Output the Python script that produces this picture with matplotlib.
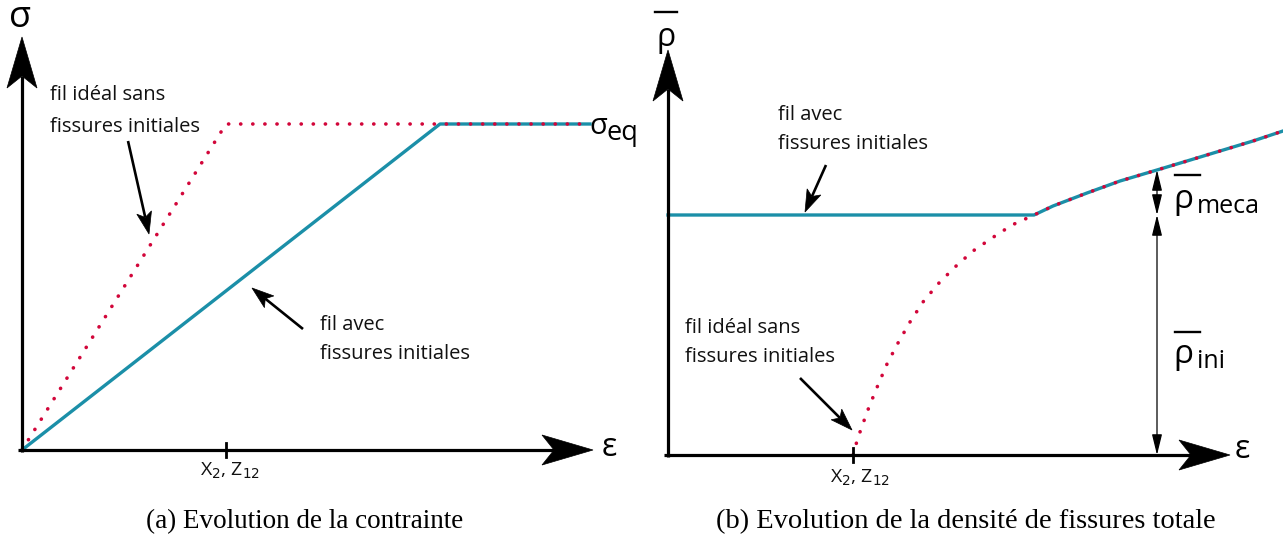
import numpy as np
import matplotlib
matplotlib.use("Agg")
import matplotlib.pyplot as plt
from matplotlib.patches import Polygon, FancyArrowPatch

# ---- data (schematic units) ----
# (a) stress vs strain
strain_ideal = [0, 204, 418, 568]
stress_ideal = [0, 326, 326, 326]
strain_real = [0, 418, 568]
stress_real = [0, 326, 326]
x2_a = 204

# (b) total crack density vs strain
eps_real_b = [0, 366, 385, 419, 452, 489, 519, 552, 585, 615]
rho_real_b = [240, 240, 249, 262, 274, 285, 294, 304, 314, 324]
eps_ideal_b = [185, 189, 193, 201, 210, 219, 230, 242, 255, 270, 287, 305,
               324, 344, 366, 385, 419, 452, 489, 519, 552, 585, 615]
rho_ideal_b = [0, 14, 26, 48, 70, 91, 112, 133, 153, 171, 188, 204,
               217, 230, 240, 249, 262, 274, 285, 294, 304, 314, 324]
x2_b = 185
rho_ini = 240
rho_mech_top = 285
x_rho_marks = 489

tick_label = "X$_2$, Z$_{12}$"
caption_a = "(a) Evolution de la contrainte"
caption_b = "(b) Evolution de la densité de fissures totale"

BLUE = "#1b8fa8"
RED = "#d2063a"
SANS = "Open Sans"
SERIF = "Liberation Serif"

W, H = 1283, 540
fig = plt.figure(figsize=(W / 100, H / 100), dpi=100)

ax_a = fig.add_axes([0, 0, 642 / W, 1])
ax_a.set_xlim(-22, 620)
ax_a.set_ylim(-90, 450)
ax_b = fig.add_axes([641 / W, 0, 642 / W, 1])
ax_b.set_xlim(-27, 615)
ax_b.set_ylim(-85, 455)
for ax in (ax_a, ax_b):
    ax.set_axis_off()


def head(ax, tip, direction, length, half_w, notch, color="black"):
    d = np.asarray(direction, float)
    d /= np.linalg.norm(d)
    n = np.array([-d[1], d[0]])
    t = np.asarray(tip, float)
    back = t - length * d
    pts = [t, back + half_w * n, t - (length - notch) * d, back - half_w * n]
    ax.add_patch(Polygon(pts, closed=True, facecolor=color,
                         edgecolor=color, lw=0.5, zorder=6))
    return t - (length - notch) * d


def axis_arrow(ax, start, tip):
    d = np.subtract(tip, start)
    base = head(ax, tip, d, 51, 15, 12)
    ax.plot([start[0], base[0]], [start[1], base[1]], color="black",
            lw=2.3, solid_capstyle="butt", zorder=5)


def pointer(ax, tail, tip):
    d = np.subtract(tip, tail)
    base = head(ax, tip, d, 22, 7.5, 5)
    ax.plot([tail[0], base[0]], [tail[1], base[1]], color="black",
            lw=1.9, solid_capstyle="butt", zorder=5)


dotted = dict(color=RED, lw=2.6, linestyle=(0, (0.05, 3.3)),
              dash_capstyle="round", zorder=4)
txt = dict(family=SANS, fontsize=14.5, color="#111111")

# ---------------- panel (a) ----------------
ax_a.plot(strain_real, stress_real, color=BLUE, lw=2.4, zorder=3)
ax_a.plot(strain_ideal, stress_ideal, **dotted)
axis_arrow(ax_a, (-4, 0), (571, 0))
axis_arrow(ax_a, (0, -2), (0, 413))
ax_a.plot([x2_a, x2_a], [-7, 7], color="black", lw=2.0, zorder=5)
ax_a.text(x2_a + 4, -21, tick_label, ha="center", va="center",
          family=SANS, fontsize=14, color="#111111")
ax_a.text(-2, 432, "σ", ha="center", va="center", family=SANS, fontsize=26)
ax_a.text(587, 3, "ε", ha="center", va="center", family=SANS, fontsize=23)
ax_a.text(567, 324, "σ", ha="left", va="center", family=SANS, fontsize=21)
ax_a.text(585, 310, "eq", ha="left", va="baseline", family=SANS, fontsize=19.5)

ax_a.text(28, 355, "fil idéal sans", ha="left", va="center", **txt)
ax_a.text(28, 323, "fissures initiales", ha="left", va="center", **txt)
pointer(ax_a, (106, 309), (127, 216))
ax_a.text(298, 125, "fil avec", ha="left", va="center", **txt)
ax_a.text(298, 96, "fissures initiales", ha="left", va="center", **txt)
pointer(ax_a, (281, 121), (230, 162))

# ---------------- panel (b) ----------------
ax_b.plot(eps_real_b, rho_real_b, color=BLUE, lw=2.4, zorder=3)
ax_b.plot(eps_ideal_b, rho_ideal_b, **dotted)
axis_arrow(ax_b, (-4, 0), (562, 0))
axis_arrow(ax_b, (0, -2), (0, 405))
ax_b.plot([x2_b, x2_b], [-7, 7], color="black", lw=2.0, zorder=5)
ax_b.text(x2_b + 7, -23, tick_label, ha="center", va="center",
          family=SANS, fontsize=14, color="#111111")
ax_b.text(574, 5, "ε", ha="center", va="center", family=SANS, fontsize=23)

# rho-bar on the vertical axis
ax_b.text(-2, 418, "ρ", ha="center", va="center", family=SANS, fontsize=23)
ax_b.plot([-13, 9], [443, 443], color="black", lw=1.7)

# split of the total density into initial and mechanical parts
arr = dict(arrowstyle="<|-|>,head_length=0.9,head_width=0.22", color="black",
           lw=0.9, shrinkA=0, shrinkB=0, mutation_scale=14, zorder=5)
ax_b.add_patch(FancyArrowPatch((x_rho_marks, rho_ini), (x_rho_marks, rho_mech_top), **arr))
ax_b.add_patch(FancyArrowPatch((x_rho_marks, 0), (x_rho_marks, rho_ini), **arr))

ax_b.text(505, 247, "ρ", ha="left", va="baseline", family=SANS, fontsize=24)
ax_b.plot([507, 532], [280, 280], color="black", lw=1.7)
ax_b.text(529, 242, "meca", ha="left", va="baseline", family=SANS, fontsize=18)
ax_b.text(505, 92, "ρ", ha="left", va="baseline", family=SANS, fontsize=24)
ax_b.plot([507, 532], [123, 123], color="black", lw=1.7)
ax_b.text(529, 87, "ini", ha="left", va="baseline", family=SANS, fontsize=18)

ax_b.text(110, 340, "fil avec", ha="left", va="center", **txt)
ax_b.text(110, 311, "fissures initiales", ha="left", va="center", **txt)
pointer(ax_b, (158, 290), (137, 243))
ax_b.text(17, 127, "fil idéal sans", ha="left", va="center", **txt)
ax_b.text(17, 98, "fissures initiales", ha="left", va="center", **txt)
pointer(ax_b, (132, 77), (184, 25))

# captions
fig.text(305 / W, 1 - 522 / H, caption_a, ha="center", va="center",
         family=SERIF, fontsize=19.5)
fig.text(966 / W, 1 - 522 / H, caption_b, ha="center", va="center",
         family=SERIF, fontsize=20.5)

fig.savefig("out.png", dpi=100, facecolor="white")
